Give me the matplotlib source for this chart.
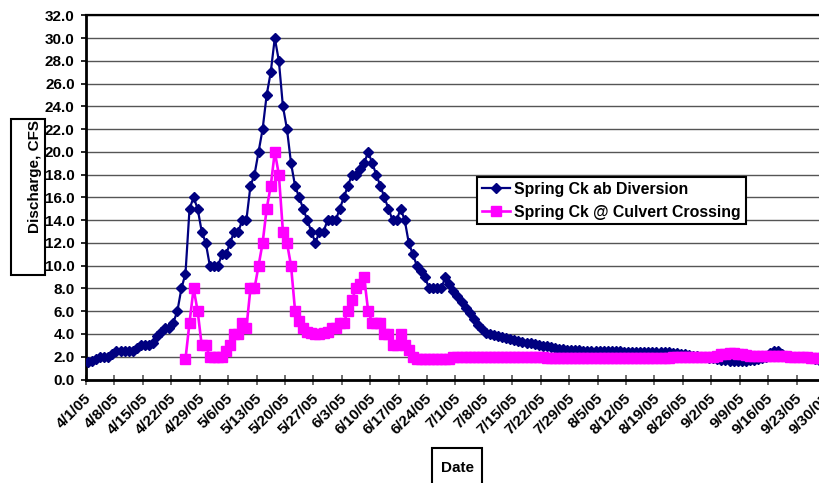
import matplotlib
matplotlib.use("Agg")
import matplotlib.pyplot as plt
import matplotlib.dates as mdates
from matplotlib.patches import Rectangle
from matplotlib.transforms import ScaledTranslation
from matplotlib.ticker import FuncFormatter, MultipleLocator
import pandas as pd

plt.rcParams['font.family'] = ['Liberation Sans', 'DejaVu Sans']
plt.rcParams['font.weight'] = 'bold'

# daily discharge (CFS), one row per week
diversion_start = "2005-04-01 12:00"
diversion_cfs = [
    1.5, 1.6, 1.8, 2.0, 2.0, 2.0, 2.2,
    2.5, 2.5, 2.5, 2.5, 2.5, 2.8, 3.0,
    3.0, 3.0, 3.2, 3.8, 4.2, 4.5, 4.5,
    5.0, 6.0, 8.0, 9.3, 15, 16, 15,
    13, 12, 10, 10, 10, 11, 11,
    12, 13, 13, 14, 14, 17, 18,
    20, 22, 25, 27, 30, 28, 24,
    22, 19, 17, 16, 15, 14, 13,
    12, 13, 13, 14, 14, 14, 15,
    16, 17, 18, 18, 18.5, 19, 20,
    19, 18, 17, 16, 15, 14, 14,
    15, 14, 12, 11, 10, 9.5, 9,
    8, 8, 8, 8, 9, 8.4, 7.8,
    7.3, 6.8, 6.3, 5.8, 5.3, 4.8, 4.4,
    4.1, 4.0, 3.87, 3.8, 3.7, 3.65, 3.55,
    3.47, 3.4, 3.33, 3.25, 3.17, 3.1, 3.03,
    2.97, 2.9, 2.83, 2.77, 2.72, 2.67, 2.63,
    2.6, 2.57, 2.55, 2.53, 2.51, 2.5, 2.5,
    2.5, 2.5, 2.5, 2.48, 2.48, 2.47, 2.46,
    2.46, 2.45, 2.45, 2.44, 2.44, 2.43, 2.42,
    2.42, 2.4, 2.4, 2.38, 2.35, 2.3, 2.25,
    2.2, 2.15, 2.1, 2.05, 2.0, 1.95, 1.9,
    1.85, 1.8, 1.75, 1.7, 1.65, 1.6, 1.6,
    1.6, 1.65, 1.7, 1.75, 1.8, 1.85, 2.0,
    2.3, 2.5, 2.5, 2.2, 2.0, 2.0, 2.0,
    2.0, 2.0, 1.95, 1.9, 1.8, 1.75, 1.7,
    1.7,
]

culvert_start = "2005-04-25 12:00"
culvert_cfs = [
    1.8, 5.0, 8.0, 6.0,
    3.0, 3.0, 2.0, 2.0, 2.0, 2.0, 2.5,
    3.0, 4.0, 4.0, 5.0, 4.5, 8.0, 8.0,
    10, 12, 15, 17, 20, 18, 13,
    12, 10, 6.0, 5.1, 4.5, 4.2, 4.1,
    4.0, 4.0, 4.1, 4.2, 4.5, 4.5, 5.0,
    5.0, 6.0, 7.0, 8.0, 8.4, 9.0, 6.0,
    5.0, 5.0, 5.0, 4.0, 4.0, 3.0, 3.0,
    4.0, 3.0, 2.6, 2.0, 1.8, 1.8, 1.8,
    1.8, 1.8, 1.8, 1.8, 1.8, 1.8, 2.0,
    2.0, 2.0, 2.0, 2.0, 2.0, 2.0, 2.0,
    2.0, 2.0, 2.0, 2.0, 2.0, 2.0, 2.0,
    2.0, 2.0, 2.0, 2.0, 2.0, 2.0, 2.0,
    1.95, 1.9, 1.85, 1.85, 1.85, 1.85, 1.85,
    1.85, 1.85, 1.85, 1.85, 1.85, 1.85, 1.85,
    1.85, 1.85, 1.85, 1.85, 1.85, 1.85, 1.85,
    1.85, 1.85, 1.85, 1.85, 1.85, 1.85, 1.85,
    1.85, 1.85, 1.85, 1.9, 1.95, 2.0, 2.0,
    2.0, 2.0, 2.0, 2.0, 2.0, 2.0, 2.0,
    2.0, 2.1, 2.2, 2.25, 2.3, 2.3, 2.25,
    2.2, 2.15, 2.1, 2.05, 2.05, 2.05, 2.05,
    2.05, 2.05, 2.05, 2.05, 2.05, 2.0, 2.0,
    2.0, 2.0, 1.95, 1.9, 1.9, 1.85, 1.85,
    1.85,
]

series_names = ["Spring Ck ab Diversion", "Spring Ck @ Culvert Crossing"]
tick_dates = pd.date_range("2005-04-01", "2005-09-30", freq="7D")

diversion_dates = pd.date_range(diversion_start, periods=len(diversion_cfs), freq="D")
culvert_dates = pd.date_range(culvert_start, periods=len(culvert_cfs), freq="D")

W, H = 820, 483
fig = plt.figure(figsize=(W / 100, H / 100), dpi=100)
ax = fig.add_axes([86 / W, (H - 379.5) / H, 743 / W, 364.2 / H])

ax.plot(diversion_dates, diversion_cfs, color="#000080", lw=1.6,
        marker="D", ms=5.4, label=series_names[0], zorder=3)
ax.plot(culvert_dates, culvert_cfs, color="#FF00FF", lw=1.9,
        marker="s", ms=6.5, label=series_names[1], zorder=4)

ax.set_xlim(pd.Timestamp("2005-04-01"), pd.Timestamp("2005-10-01"))
ax.set_ylim(0, 32)
ax.yaxis.set_major_locator(MultipleLocator(2))
ax.yaxis.set_major_formatter(FuncFormatter(lambda v, p: f"{v:.1f}"))
ax.set_xticks(tick_dates)
ax.xaxis.set_major_formatter(FuncFormatter(
    lambda v, p: (lambda d: f"{d.month}/{d.day}/{d:%y}")(mdates.num2date(v))))

ax.yaxis.grid(True, color="#555555", lw=1.0)
ax.set_axisbelow(True)
for s in ["left", "bottom"]:
    ax.spines[s].set_linewidth(2)
ax.spines["top"].set_linewidth(1.6)
ax.spines["right"].set_visible(False)

ax.tick_params(axis="y", direction="out", length=3.6, width=1.2,
               labelsize=11, pad=4.5)
ax.tick_params(axis="x", direction="inout", length=7, width=1.2,
               color="#555555", labelsize=11, pad=5)
shift = ScaledTranslation(-2 / 100, 0, fig.dpi_scale_trans)
for lbl in ax.get_xticklabels():
    lbl.set_rotation(45)
    lbl.set_ha("right")
    lbl.set_va("top")
    lbl.set_rotation_mode("anchor")
    lbl.set_transform(lbl.get_transform() + shift)

leg = ax.legend(loc="upper left", bbox_to_anchor=(477 / W, 1 - 177 / H),
                bbox_transform=fig.transFigure, fontsize=11.4, frameon=True,
                fancybox=False, edgecolor="black", framealpha=1,
                borderpad=0.3, borderaxespad=0, handlelength=1.8,
                handletextpad=0.25, labelspacing=0.5, numpoints=1)
leg.get_frame().set_linewidth(1.5)

# axis titles in boxes
fig.patches.append(Rectangle((11 / W, 1 - 275 / H), 34 / W, 156 / H,
                             transform=fig.transFigure, fill=False,
                             lw=1.5, ec="black"))
fig.text(35.5 / W, 1 - 176.5 / H, "Discharge, CFS", rotation=90,
         ha="center", va="center", fontsize=11)
fig.patches.append(Rectangle((432 / W, 1 - 495 / H), 50 / W, 47 / H,
                             transform=fig.transFigure, fill=False,
                             lw=1.5, ec="black"))
fig.text(457 / W, 1 - 467.5 / H, "Date", ha="center", va="center",
         fontsize=11)

fig.savefig("out.png", dpi=100)
